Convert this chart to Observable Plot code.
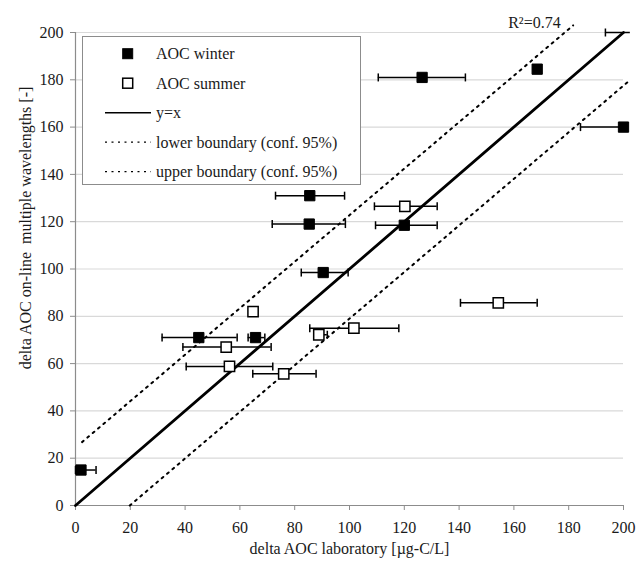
<!DOCTYPE html>
<html><head><meta charset="utf-8">
<script src="https://cdn.jsdelivr.net/npm/d3@7"></script>
<script src="https://cdn.jsdelivr.net/npm/@observablehq/plot@0.6"></script>
<style>
body{margin:0;background:#fff;}
#wrap{position:relative;width:638px;height:562px;font-family:"Liberation Serif","Times New Roman",serif;color:#1a1a1a;}
#legend{position:absolute;left:82px;top:36px;width:279px;height:149px;border:1px solid #8c8c8c;background:#fff;box-sizing:border-box;}
#legend svg{position:absolute;left:0;top:0;}
</style></head><body><div id="wrap"></div>
<script>
const xTicks = [0,20,40,60,80,100,120,140,160,180,200];
const yTicks = [0,20,40,60,80,100,120,140,160,180,200];

const winterX  = [2, 45, 65.7, 85.3, 85.5, 90.4, 120, 126.5, 168.5, 200];
const winterY  = [15, 71, 71, 119, 131, 98.5, 118.5, 181, 184.5, 160];
const winterLo = [0, 31.6, 63, 71.8, 73, 82.4, 109.5, 110.5, null, 184.3];
const winterHi = [7.5, 59, 69.1, 98.5, 98.2, 99.5, 132, 142.3, null, 200];

// error bar whose marker lies at the top edge (marker not shown, right end runs off)
const edgeBarY  = [200];
const edgeBarLo = [193.4];
const edgeBarHi = [202.5];

const summerX  = [55, 56.2, 64.8, 76, 88.8, 101.6, 120.2, 154.3];
const summerY  = [67, 58.8, 82, 55.7, 72.2, 75, 126.5, 85.7];
const summerLo = [39.2, 40.4, null, 64.7, 87, 85.5, 109.1, 140.5];
const summerHi = [71.4, 72, null, 87.8, 91.9, 118, 132, 168.5];

const identityX = [0, 200], identityY = [0, 200];
const lowerX = [19.8, 202.5], lowerY = [0, 180];
const upperX = [2.4, 181.6], upperY = [26.8, 203];

const r2Label = ["R²=0.74"];
const r2X = [167.5], r2Y = [201.9];

const xLabel = "delta AOC laboratory [µg-C/L]";
const yLabel = "delta AOC on-line  multiple wavelengths [-]";

const legendItems = ["AOC winter", "AOC summer", "y=x", "lower boundary (conf. 95%)", "upper boundary (conf. 95%)"];

const winter = winterX.map((x, i) => ({x, y: winterY[i], lo: winterLo[i], hi: winterHi[i]}));
const summer = summerX.map((x, i) => ({x, y: summerY[i], lo: summerLo[i], hi: summerHi[i]}));
const edgeBars = edgeBarY.map((y, i) => ({y, lo: edgeBarLo[i], hi: edgeBarHi[i]}));
const pointBars = [...winter, ...summer].filter(d => d.lo != null);
const bars = pointBars.concat(edgeBars);
const caps = pointBars.flatMap(d => [{x: d.lo, y: d.y}, {x: d.hi, y: d.y}])
  .concat(edgeBars.map(d => ({x: d.lo, y: d.y})));
const toPts = (xs, ys) => xs.map((x, i) => ({x, y: ys[i]}));

const capSymbol = {draw(ctx, size) { const h = Math.sqrt(size / Math.PI); ctx.moveTo(0, -h); ctx.lineTo(0, h); }};
const FONT = '"Liberation Serif","Times New Roman",serif';

const chart = Plot.plot({
  width: 638, height: 562,
  marginLeft: 75, marginRight: 15, marginTop: 32, marginBottom: 57,
  x: {domain: [0, 200]},
  y: {domain: [0, 200]},
  style: {fontFamily: FONT, fontSize: "16px", color: "#1a1a1a", background: "#fff", overflow: "visible"},
  marks: [
    Plot.gridY(yTicks, {stroke: "#d9d9d9", strokeOpacity: 1, strokeWidth: 1.2}),
    Plot.axisY(yTicks, {tickSize: 5, tickPadding: 7, stroke: "#8c8c8c", fill: "#1a1a1a", fillOpacity: 1, strokeOpacity: 1, label: null}),
    Plot.axisX(xTicks, {tickSize: 5, tickPadding: 11, stroke: "#8c8c8c", fill: "#1a1a1a", fillOpacity: 1, strokeOpacity: 1, label: null}),
    Plot.ruleX([0], {stroke: "#8c8c8c", strokeWidth: 1.2}),
    Plot.ruleY([0], {stroke: "#8c8c8c", strokeWidth: 1.2}),
    Plot.line(toPts(upperX, upperY), {x: "x", y: "y", stroke: "#000", strokeWidth: 2, strokeDasharray: "2,5"}),
    Plot.line(toPts(lowerX, lowerY), {x: "x", y: "y", stroke: "#000", strokeWidth: 2, strokeDasharray: "2,5"}),
    Plot.line(toPts(identityX, identityY), {x: "x", y: "y", stroke: "#000", strokeWidth: 2.8}),
    Plot.ruleY(bars, {y: "y", x1: "lo", x2: "hi", stroke: "#000", strokeWidth: 1.5}),
    Plot.dot(caps, {x: "x", y: "y", symbol: capSymbol, r: 4, stroke: "#000", strokeWidth: 1.5, fill: "none"}),
    Plot.dot(summer, {x: "x", y: "y", symbol: "square", r: 5.8, fill: "#fff", stroke: "#000", strokeWidth: 1.5}),
    Plot.dot(winter, {x: "x", y: "y", symbol: "square", r: 5.8, fill: "#000", stroke: "#000", strokeWidth: 1}),
    Plot.text(r2Label, {x: () => r2X[0], y: () => r2Y[0], text: d => d, textAnchor: "middle", lineAnchor: "bottom", fill: "#1a1a1a"}),
    Plot.text([xLabel], {frameAnchor: "bottom", text: d => d, dy: 48, textAnchor: "middle", lineAnchor: "bottom", fill: "#1a1a1a"}),
    Plot.text([yLabel], {frameAnchor: "left", text: d => d, rotate: -90, dx: -45, dy: -41, textAnchor: "middle", lineAnchor: "bottom", fill: "#1a1a1a"})
  ]
});
const wrap = document.getElementById("wrap");
wrap.appendChild(chart);

// legend inside the plot area
const leg = document.createElement("div");
leg.id = "legend";
wrap.appendChild(leg);
const lsvg = d3.select(leg).append("svg").attr("width", 279).attr("height", 149)
  .style("font-family", FONT).style("font-size", "16px");
const rowY = i => 16.7 + i * 29.5;
legendItems.forEach((label, i) => {
  const y = rowY(i);
  if (i === 0) lsvg.append("rect").attr("x", 44.7 - 5).attr("y", y - 5).attr("width", 10).attr("height", 10).attr("fill", "#000").attr("stroke", "#000");
  else if (i === 1) lsvg.append("rect").attr("x", 44.7 - 5).attr("y", y - 5).attr("width", 10).attr("height", 10).attr("fill", "#fff").attr("stroke", "#000").attr("stroke-width", 1.5);
  else {
    const ln = lsvg.append("line").attr("x1", 22).attr("x2", 68).attr("y1", y).attr("y2", y).attr("stroke", "#000");
    if (i === 2) ln.attr("stroke-width", 1.5);
    else ln.attr("stroke-width", 1.2).attr("stroke-dasharray", "2,4.5");
  }
  lsvg.append("text").attr("x", 73).attr("y", y).attr("dy", "0.35em").attr("fill", "#1a1a1a").text(label);
});
</script>
</body></html>
